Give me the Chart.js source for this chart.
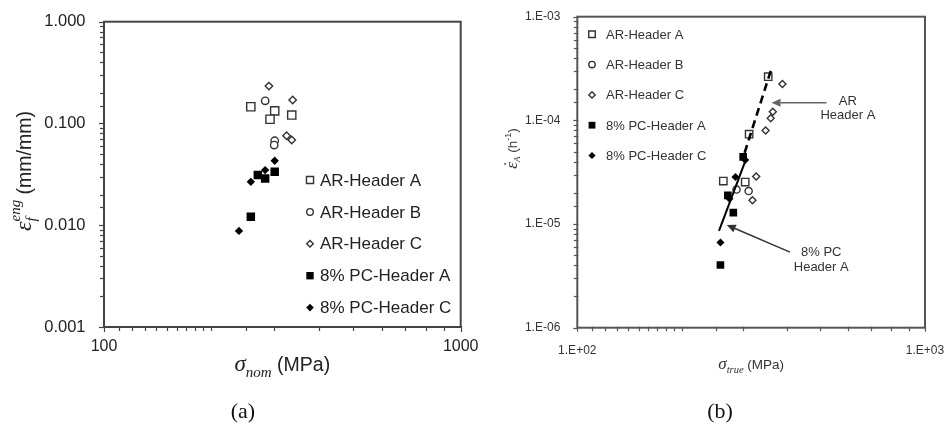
<!DOCTYPE html>
<html><head><meta charset="utf-8">
<script src="https://cdn.jsdelivr.net/npm/chart.js@4"></script>
<style>
html,body{margin:0;padding:0;background:#fff;width:944px;height:424px;overflow:hidden;position:relative}
canvas{position:absolute;top:0}
#ca{left:0}
#cb{left:470px}
.cap{position:absolute;top:399px;font:22px "Liberation Serif";line-height:24px;color:#111;width:60px;text-align:center}
</style></head><body>
<canvas id="ca" width="490" height="424"></canvas>
<canvas id="cb" width="474" height="424"></canvas>
<div class="cap" style="left:213px">(a)</div>
<div class="cap" style="left:690px">(b)</div>
<script>
// ---------- (a) failure strain vs nominal stress ----------
const aSeries = ['AR-Header A','AR-Header B','AR-Header C','8% PC-Header A','8% PC-Header C'];
const aArA_stress = [258, 301, 292, 336];
const aArA_strain = [0.146, 0.133, 0.110, 0.121];
const aArB_stress = [283, 301, 300];
const aArB_strain = [0.167, 0.0676, 0.0613];
const aArC_stress = [290, 338, 325, 336];
const aArC_strain = [0.233, 0.170, 0.0757, 0.0687];
const aPcA_stress = [270, 283, 301, 258];
const aPcA_strain = [0.0311, 0.0288, 0.0335, 0.0121];
const aPcC_stress = [301, 283, 258, 239];
const aPcC_strain = [0.0430, 0.0348, 0.0267, 0.0088];
const aXRange = [100, 1000];
const aYRange = [0.001, 1];

// ---------- (b) creep rate vs true stress ----------
const bSeries = ['AR-Header A','AR-Header B','AR-Header C','8% PC-Header A','8% PC-Header C'];
const bArA_stress = [354, 312, 263, 304];
const bArA_rate = [2.64e-4, 7.36e-5, 2.60e-5, 2.54e-5];
const bArB_stress = [287, 311];
const bArB_rate = [2.15e-5, 2.08e-5];
const bArC_stress = [389, 365, 360, 348, 327, 319];
const bArC_rate = [2.24e-4, 1.21e-4, 1.05e-4, 7.99e-5, 2.88e-5, 1.70e-5];
const bPcA_stress = [300, 271, 281, 258];
const bPcA_rate = [4.44e-5, 1.89e-5, 1.29e-5, 4.03e-6];
const bPcC_stress = [304, 285, 274, 258];
const bPcC_rate = [4.15e-5, 2.85e-5, 1.75e-5, 6.65e-6];
const bFitAR_stress = [360, 300];
const bFitAR_rate = [3.0e-4, 4.4e-5];
const bFitPC_stress = [306.6, 255.6];
const bFitPC_rate = [4.34e-5, 8.58e-6];
const bNoteText = [['AR','Header A'], ['8% PC','Header A']];
const bNoteStress = [600, 503];
const bNoteRate = [[1.54e-4, 1.11e-4], [5.30e-6, 3.83e-6]];
const bArrowTail_stress = [521, 409];
const bArrowTail_rate = [1.48e-4, 5.35e-6];
const bArrowTip_stress = [362, 269];
const bArrowTip_rate = [1.48e-4, 9.8e-6];
const bXRange = [100, 1000];
const bYRange = [1e-6, 1e-3];

const SANS = '"Liberation Sans", Arial, sans-serif';
const SERIF = '"Liberation Serif", "Times New Roman", serif';

function isPow10(v){const l=Math.log10(v);return Math.abs(l-Math.round(l))<1e-6;}
function pts(xs, ys){return xs.map((x,i)=>({x:x, y:ys[i]}));}

function drawMarker(ctx, style, x, y, r, fill, stroke, lw){
  ctx.beginPath();
  if(style==='rect'){const s=Math.SQRT1_2*r; ctx.rect(x-s,y-s,2*s,2*s);}
  else if(style==='circle'){ctx.arc(x,y,r,0,Math.PI*2);}
  else {ctx.moveTo(x-r,y);ctx.lineTo(x,y-r);ctx.lineTo(x+r,y);ctx.lineTo(x,y+r);ctx.closePath();}
  ctx.fillStyle=fill; ctx.fill();
  if(lw>0){ctx.lineWidth=lw; ctx.strokeStyle=stroke; ctx.stroke();}
}

function layoutRich(ctx, segs){
  let cur=0,lastStart=0; const xs=[];
  for(const s of segs){
    ctx.font=s.font; const w=ctx.measureText(s.t).width;
    const st = s.stack ? lastStart : cur;
    xs.push(st+(s.dx||0));
    if(!s.stack) lastStart=st;
    cur=Math.max(cur, st+w);
  }
  return {xs:xs, width:cur};
}
function drawRich(ctx, segs, cx, by, color){
  const L=layoutRich(ctx,segs); const x0=cx-L.width/2;
  ctx.fillStyle=color; ctx.textBaseline='alphabetic'; ctx.textAlign='left';
  segs.forEach((s,i)=>{ctx.font=s.font; ctx.fillText(s.t, x0+L.xs[i], by+(s.dy||0));});
}

const decoPlugin = {
  id:'deco',
  afterDraw(chart, args, o){
    const ctx=chart.ctx, a=chart.chartArea, xs=chart.scales.x, ys=chart.scales.y;
    ctx.save();
    // tick marks
    ctx.strokeStyle=o.axisColor; ctx.lineWidth=1.2;
    ys.ticks.forEach(t=>{
      const p=Math.round(ys.getPixelForValue(t.value))+0.5;
      const L=isPow10(t.value)?o.major:o.minor;
      ctx.beginPath(); ctx.moveTo(a.left-L,p); ctx.lineTo(a.left+1,p); ctx.stroke();
    });
    xs.ticks.forEach(t=>{
      const p=Math.round(xs.getPixelForValue(t.value))+0.5;
      const L=isPow10(t.value)?o.major:o.minor;
      ctx.beginPath(); ctx.moveTo(p,a.bottom-1); ctx.lineTo(p,a.bottom+L); ctx.stroke();
    });
    // frame
    ctx.lineWidth=o.axisWidth; ctx.strokeStyle=o.axisColor;
    ctx.strokeRect(a.left,a.top,a.right-a.left,a.bottom-a.top);
    // legend
    const lg=o.legend;
    chart.data.datasets.filter(d=>d.inLegend).forEach((d,i)=>{
      const y=lg.y+i*lg.dy;
      drawMarker(ctx, d.pointStyle, lg.mx, y, d.legendR, d.backgroundColor, d.borderColor, d.borderWidth);
      ctx.fillStyle=lg.color; ctx.font=lg.font; ctx.textBaseline='middle'; ctx.textAlign='left';
      ctx.fillText(d.label, lg.tx, y+1);
    });
    // arrows and notes
    if(o.notes){
      const n=o.notes;
      n.tailX.forEach((_,i)=>{
        const x1=xs.getPixelForValue(n.tailX[i]), y1=ys.getPixelForValue(n.tailY[i]);
        const x2=xs.getPixelForValue(n.tipX[i]), y2=ys.getPixelForValue(n.tipY[i]);
        const ang=Math.atan2(y2-y1,x2-x1), hl=9, hw=4;
        ctx.strokeStyle=n.arrowColor[i]; ctx.fillStyle=n.arrowColor[i]; ctx.lineWidth=1.4;
        const bx=x2-Math.cos(ang)*hl, by=y2-Math.sin(ang)*hl;
        ctx.beginPath(); ctx.moveTo(x1,y1); ctx.lineTo(bx,by); ctx.stroke();
        ctx.beginPath(); ctx.moveTo(x2,y2);
        ctx.lineTo(bx+Math.sin(ang)*hw, by-Math.cos(ang)*hw);
        ctx.lineTo(bx-Math.sin(ang)*hw, by+Math.cos(ang)*hw);
        ctx.closePath(); ctx.fill();
        ctx.fillStyle=n.color; ctx.font=n.font; ctx.textAlign='center'; ctx.textBaseline='middle';
        n.text[i].forEach((line,j)=>{
          ctx.fillText(line, xs.getPixelForValue(n.textX[i]), ys.getPixelForValue(n.textY[i][j]));
        });
      });
    }
    // axis titles
    const tx=o.xTitle;
    drawRich(ctx, tx.segs, (a.left+a.right)/2+(tx.dx||0), tx.y, tx.color);
    const ty=o.yTitle;
    ctx.save(); ctx.translate(ty.x, ty.cy); ctx.rotate(-Math.PI/2);
    drawRich(ctx, ty.segs, 0, 0, ty.color); ctx.restore();
    ctx.restore();
  }
};

function markerDs(label, xs, ys, style, r, filled, legendR){
  return {label:label, data:pts(xs,ys), pointStyle:style, pointRadius:r, pointHoverRadius:r,
    backgroundColor: filled?'#000':'#fff', borderColor: filled?'#000':'#333',
    borderWidth: filled?0:1.4, showLine:false, inLegend:true, legendR:legendR, order:2};
}

function logScale(range, fontSize, color, padding, cb, fit){
  return {type:'logarithmic', min:range[0], max:range[1],
    grid:{display:false}, border:{display:false},
    ticks:{autoSkip:false, maxRotation:0, padding:padding, color:color,
      font:{family:'Liberation Sans', size:fontSize},
      callback:v=>isPow10(v)?cb(v):''},
    afterFit:fit};
}

// ----- chart (a) -----
new Chart(document.getElementById('ca'), {
  type:'scatter',
  data:{datasets:[
    markerDs(aSeries[0], aArA_stress, aArA_strain, 'rect', 5.8, false, 5.0),
    markerDs(aSeries[1], aArB_stress, aArB_strain, 'circle', 3.7, false, 3.3),
    markerDs(aSeries[2], aArC_stress, aArC_strain, 'rectRot', 3.7, false, 3.3),
    markerDs(aSeries[3], aPcA_stress, aPcA_strain, 'rect', 6.0, true, 5.2),
    markerDs(aSeries[4], aPcC_stress, aPcC_strain, 'rectRot', 4.2, true, 3.8)
  ]},
  options:{
    responsive:false, animation:false, events:[],
    layout:{padding:{left:0, top:21.7, right:29.3, bottom:0}},
    plugins:{legend:{display:false}, tooltip:{enabled:false},
      deco:{axisColor:'#444', axisWidth:2, major:5, minor:4,
        legend:{mx:310, tx:320, y:180, dy:31.9, font:'17px '+SANS, color:'#222'},
        xTitle:{y:370.7, color:'#222', segs:[
          {t:'σ', font:'italic 23px '+SERIF},
          {t:'nom', font:'italic 15px '+SERIF, dy:6},
          {t:' (MPa)', font:'19.5px '+SANS}]},
        yTitle:{x:30.5, cy:171, color:'#222', segs:[
          {t:'ε', font:'italic 24px '+SERIF},
          {t:'f', font:'italic 15px '+SERIF, dy:5},
          {t:'eng', font:'italic 15px '+SERIF, dy:-11, stack:true},
          {t:' (mm/mm)', font:'19.5px '+SANS}]}
      }},
    scales:{
      x:logScale(aXRange, 16, '#222', 1.8, v=>String(Math.round(v)),
        s=>{s.height=97; s.paddingLeft=0; s.paddingRight=0;}),
      y:logScale(aYRange, 16.5, '#222', 10.5, v=>v.toFixed(3),
        s=>{s.width=104; s.paddingTop=0; s.paddingBottom=0;})
    }
  },
  plugins:[decoPlugin]
});

// ----- chart (b) -----
new Chart(document.getElementById('cb'), {
  type:'scatter',
  data:{datasets:[
    {label:'fitAR', data:pts(bFitAR_stress,bFitAR_rate), showLine:true, borderColor:'#000', borderWidth:2.6,
      borderDash:[8,5], pointRadius:0, order:0},
    {label:'fitPC', data:pts(bFitPC_stress,bFitPC_rate), showLine:true, borderColor:'#000', borderWidth:2,
      pointRadius:0, order:0},
    markerDs(bSeries[0], bArA_stress, bArA_rate, 'rect', 5.2, false, 4.6),
    markerDs(bSeries[1], bArB_stress, bArB_rate, 'circle', 3.6, false, 3.2),
    markerDs(bSeries[2], bArC_stress, bArC_rate, 'rectRot', 3.5, false, 3.2),
    markerDs(bSeries[3], bPcA_stress, bPcA_rate, 'rect', 5.4, true, 4.8),
    markerDs(bSeries[4], bPcC_stress, bPcC_rate, 'rectRot', 4.0, true, 3.6)
  ]},
  options:{
    responsive:false, animation:false, events:[],
    layout:{padding:{left:0, top:16.7, right:19, bottom:0}},
    plugins:{legend:{display:false}, tooltip:{enabled:false},
      deco:{axisColor:'#555', axisWidth:2, major:4, minor:3.5,
        legend:{mx:122, tx:136, y:34.3, dy:30.3, font:'13px '+SANS, color:'#333'},
        notes:{text:bNoteText, textX:bNoteStress, textY:bNoteRate,
          tailX:bArrowTail_stress, tailY:bArrowTail_rate, tipX:bArrowTip_stress, tipY:bArrowTip_rate,
          arrowColor:['#666','#333'], color:'#333', font:'13px '+SANS},
        xTitle:{y:369.3, color:'#333', segs:[
          {t:'σ', font:'italic 17px '+SERIF},
          {t:'true', font:'italic 10.5px '+SERIF, dy:4},
          {t:' (MPa)', font:'13.5px '+SANS}]},
        yTitle:{x:47, cy:148.5, color:'#333', segs:[
          {t:'ε', font:'italic 17px '+SERIF},
          {t:'˙', font:'17px '+SERIF, stack:true, dx:2, dy:-2},
          {t:'A', font:'italic 9px '+SERIF, dy:3},
          {t:' (h', font:'13.5px '+SANS},
          {t:'-1', font:'9px '+SANS, dy:-6},
          {t:')', font:'13.5px '+SANS}]}
      }},
    scales:{
      x:logScale(bXRange, 12, '#333', 8, v=>'1.E+0'+Math.round(Math.log10(v)),
        s=>{s.height=96.3; s.paddingLeft=0; s.paddingRight=0;}),
      y:logScale(bYRange, 12, '#333', 9, v=>'1.E-0'+(-Math.round(Math.log10(v))),
        s=>{s.width=107.3; s.paddingTop=0; s.paddingBottom=0;})
    }
  },
  plugins:[decoPlugin]
});
</script>
</body></html>
